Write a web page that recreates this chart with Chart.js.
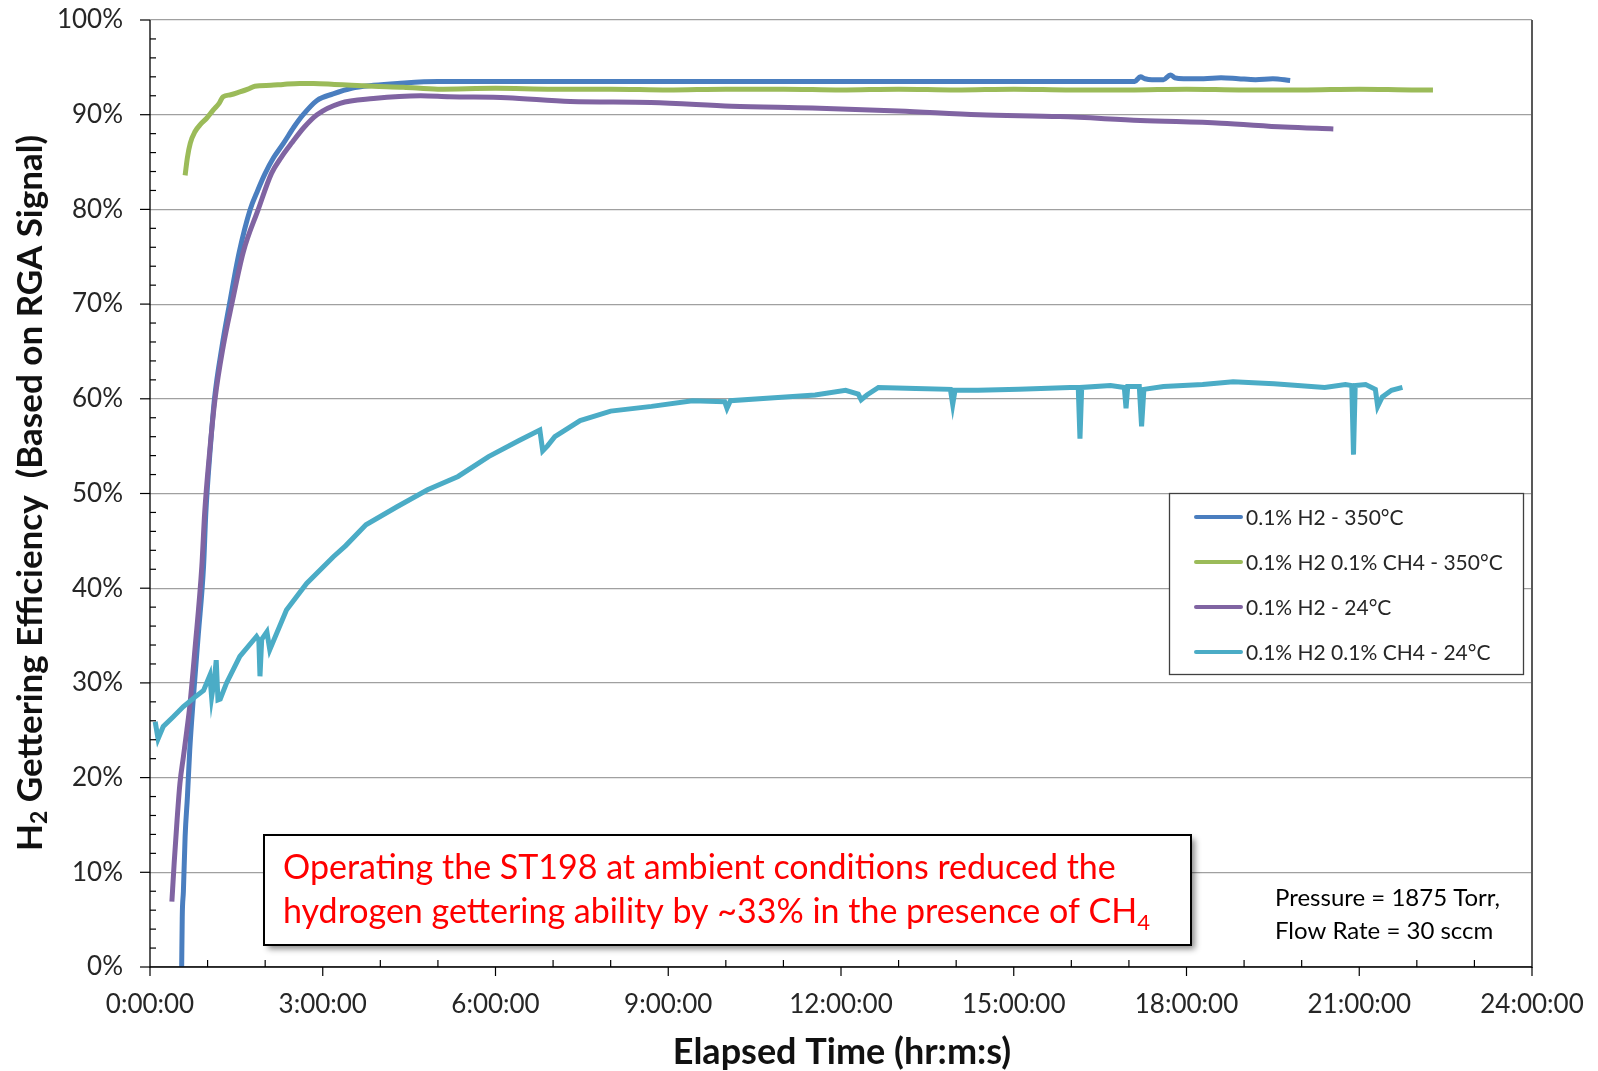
<!DOCTYPE html>
<html><head><meta charset="utf-8">
<script src="https://cdn.jsdelivr.net/npm/chart.js@4.4.1/dist/chart.umd.min.js"></script>
<style>html,body{margin:0;padding:0;background:#fff;overflow:hidden}</style>
</head><body>
<canvas id="c" width="1598" height="1071" style="width:1598px;height:1071px;display:block"></canvas>
<script>
// ---- data (hours, percent) ----
const seriesLabels = ['0.1% H2 - 350°C', '0.1% H2 0.1% CH4 - 350°C', '0.1% H2 - 24°C', '0.1% H2 0.1% CH4 - 24°C'];
const seriesColors = ['#4a7ebf', '#9bbb59', '#8064a2', '#4bacc6'];

const blueTime = [0.55,0.56,0.58,0.61,0.65,0.69,0.75,0.84,0.93,0.97,1.05,1.12,1.25,1.38,1.55,1.74,1.87,2.0,2.15,2.32,2.5,2.66,2.9,3.18,3.5,3.88,4.3,5.0,6,8,10,12,14,16,17.1,17.2,17.28,17.4,17.6,17.72,17.8,17.95,18.3,18.6,18.9,19.2,19.5,19.8];
const blueValue = [0,5.3,8,13.8,18,22.9,28.2,35.2,42.3,48,55,60,65.5,70,75.5,80,82,83.8,85.5,87,88.7,90,91.5,92.2,92.8,93.1,93.3,93.5,93.5,93.5,93.5,93.5,93.5,93.5,93.5,94.0,93.8,93.7,93.7,94.2,93.9,93.8,93.8,93.9,93.8,93.7,93.8,93.6];

const greenTime = [0.61,0.65,0.7,0.78,0.88,0.98,1.1,1.2,1.27,1.4,1.56,1.7,1.82,2.1,2.31,2.6,2.84,3.2,3.5,3.88,4.4,5.0,6,7,8,9,10,11,12,13,14,15,16,17,18,19,20,21,22,22.28];
const greenValue = [83.6,85.5,87,88.2,89,89.6,90.5,91.2,91.9,92.1,92.4,92.7,93.0,93.1,93.2,93.3,93.3,93.2,93.1,93.0,92.9,92.7,92.8,92.7,92.7,92.6,92.7,92.7,92.6,92.7,92.6,92.7,92.6,92.6,92.7,92.6,92.6,92.7,92.6,92.6];

const purpleTime = [0.38,0.42,0.47,0.52,0.58,0.64,0.69,0.78,0.9,0.95,1.03,1.13,1.27,1.42,1.62,1.88,2.11,2.28,2.46,2.68,2.9,3.3,3.88,4.7,5.2,6.2,7.3,8.7,10.1,11.5,13.0,14.4,15.8,17.2,18.6,19.7,20.55];
const purpleValue = [6.9,11,15.5,19.4,22.2,25,27.5,33.5,42.3,48,54,60,65.5,70,75.5,80,83.8,85.5,87,88.7,90,91.2,91.7,92.0,91.9,91.8,91.4,91.3,90.9,90.7,90.4,90.0,89.8,89.4,89.1,88.7,88.5];

const cyanTime = [0.09,0.14,0.23,0.40,0.58,0.78,0.93,1.04,1.07,1.12,1.15,1.18,1.22,1.33,1.56,1.85,1.89,1.91,1.94,2.03,2.08,2.37,2.72,3.18,3.4,3.75,4.29,4.82,5.35,5.88,6.41,6.77,6.82,6.9,7.03,7.47,8.0,8.71,9.42,9.98,10.02,10.08,10.84,11.55,12.08,12.3,12.35,12.45,12.65,13.3,13.9,13.94,13.98,14.38,15.09,15.98,16.12,16.15,16.18,16.68,16.92,16.95,16.98,17.18,17.22,17.26,17.6,18.28,18.81,19.52,20.4,20.76,20.87,20.9,20.93,21.11,21.28,21.32,21.4,21.56,21.75];
const cyanValue = [25.9,24.1,25.4,26.4,27.5,28.5,29.2,30.8,28.5,30.5,32.4,28.2,28.3,30.0,32.8,34.9,34.5,30.7,34.6,35.4,33.5,37.7,40.5,43.3,44.5,46.7,48.6,50.4,51.8,53.9,55.6,56.7,54.5,55.0,56.0,57.7,58.7,59.2,59.8,59.7,59.0,59.8,60.1,60.4,60.9,60.5,59.9,60.4,61.2,61.1,61.0,59.4,60.9,60.9,61.0,61.2,61.2,55.8,61.2,61.4,61.2,59.0,61.3,61.3,57.1,61.0,61.3,61.5,61.8,61.6,61.2,61.5,61.4,54.1,61.4,61.5,61.0,59.2,60.2,60.9,61.2];

const xTickValues = [0,3,6,9,12,15,18,21,24];   // hours
const yTickValues = [0,10,20,30,40,50,60,70,80,90,100]; // percent

const xTitle = 'Elapsed Time (hr:m:s)';
const noteLine1 = 'Operating the ST198 at ambient conditions reduced the';
const noteLine2 = 'hydrogen gettering ability by ~33% in the presence of CH';
const conditions = ['Pressure = 1875 Torr,', 'Flow Rate = 30 sccm'];

function pairs(t, v){ return t.map((x,i)=>({x:x, y:v[i]})); }
const allTimes = [blueTime, greenTime, purpleTime, cyanTime];
const allValues = [blueValue, greenValue, purpleValue, cyanValue];

const FONT = 'Lato, "Open Sans", "DejaVu Sans", sans-serif';

const decor = {
  id: 'decor',
  afterDraw(chart){
    const ctx = chart.ctx, ca = chart.chartArea;
    const xs = chart.scales.x, ys = chart.scales.y;
    ctx.save();
    // right border
    ctx.strokeStyle = '#595959'; ctx.lineWidth = 2;
    ctx.beginPath(); ctx.moveTo(ca.right, ca.top); ctx.lineTo(ca.right, ca.bottom + 1); ctx.stroke();
    // axis lines & ticks
    ctx.strokeStyle = '#000'; ctx.lineWidth = 1.3;
    ctx.beginPath(); ctx.moveTo(ca.left, ca.top); ctx.lineTo(ca.left, ca.bottom); ctx.lineTo(ca.right, ca.bottom); ctx.stroke();
    ctx.lineWidth = 1.2;
    for (let v = 0; v <= 100; v += 2){
      const y = ys.getPixelForValue(v);
      ctx.beginPath();
      if (v % 10 === 0){ ctx.moveTo(ca.left - 10, y); ctx.lineTo(ca.left, y); }
      else { ctx.moveTo(ca.left, y); ctx.lineTo(ca.left + 6, y); }
      ctx.stroke();
    }
    for (let h = 0; h <= 24; h += 1){
      const x = xs.getPixelForValue(h);
      ctx.beginPath();
      if (h % 3 === 0){ ctx.moveTo(x, ca.bottom); ctx.lineTo(x, ca.bottom + 9); }
      else { ctx.moveTo(x, ca.bottom); ctx.lineTo(x, ca.bottom - 7); }
      ctx.stroke();
    }
    // x title
    ctx.fillStyle = '#111';
    ctx.font = 'bold 36px ' + FONT;
    ctx.textAlign = 'center'; ctx.textBaseline = 'middle';
    ctx.fillText(xTitle, 842, 1052);
    // y title with subscript
    ctx.save();
    ctx.translate(31, 493); ctx.rotate(-Math.PI / 2);
    const big = 'bold 35px ' + FONT, small = 'bold 23px ' + FONT;
    const p1 = 'H', p2 = '2', p3 = ' Gettering Efficiency  (Based on RGA Signal)';
    ctx.font = big; const w1 = ctx.measureText(p1).width, w3 = ctx.measureText(p3).width;
    ctx.font = small; const w2 = ctx.measureText(p2).width;
    let sx = -(w1 + w2 + w3) / 2;
    ctx.textAlign = 'left'; ctx.textBaseline = 'middle';
    ctx.font = big; ctx.fillText(p1, sx, 0); sx += w1;
    ctx.font = small; ctx.fillText(p2, sx, 9); sx += w2;
    ctx.font = big; ctx.fillText(p3, sx, 0);
    ctx.restore();

    // legend box
    ctx.fillStyle = '#fff'; ctx.fillRect(1169, 493, 355, 182);
    ctx.strokeStyle = '#404040'; ctx.lineWidth = 1.3; ctx.strokeRect(1169.5, 493.5, 354, 181);
    const rows = [517, 562, 607, 652];
    chart.data.datasets.forEach((ds, i) => {
      ctx.strokeStyle = ds.borderColor; ctx.lineWidth = 4; ctx.lineCap = 'round';
      ctx.beginPath(); ctx.moveTo(1196, rows[i]); ctx.lineTo(1241, rows[i]); ctx.stroke();
      ctx.fillStyle = '#262626'; ctx.font = '21px ' + FONT; ctx.textAlign = 'left'; ctx.textBaseline = 'middle';
      ctx.fillText(ds.label, 1246, rows[i] + 1);
    });
    ctx.lineCap = 'butt';

    // annotation box
    ctx.save();
    ctx.shadowColor = 'rgba(0,0,0,0.45)'; ctx.shadowBlur = 6; ctx.shadowOffsetX = 4; ctx.shadowOffsetY = 4;
    ctx.fillStyle = '#fff'; ctx.fillRect(264, 835, 927, 110);
    ctx.restore();
    ctx.strokeStyle = '#000'; ctx.lineWidth = 2; ctx.strokeRect(264, 835, 927, 110);
    ctx.fillStyle = '#ff0000'; ctx.font = '34px ' + FONT; ctx.textAlign = 'left'; ctx.textBaseline = 'middle';
    ctx.fillText(noteLine1, 283, 868);
    ctx.fillText(noteLine2, 283, 912);
    const wl2 = ctx.measureText(noteLine2).width;
    ctx.font = '22px ' + FONT; ctx.fillText('4', 283 + wl2, 923);

    // conditions
    ctx.fillStyle = '#000'; ctx.font = '24px ' + FONT; ctx.textAlign = 'left';
    ctx.fillText(conditions[0], 1275, 898);
    ctx.fillText(conditions[1], 1275, 931);
    ctx.restore();
  }
};

const datasets = seriesLabels.map((lab, i) => ({
  label: lab,
  data: pairs(allTimes[i], allValues[i]),
  borderColor: seriesColors[i],
  backgroundColor: seriesColors[i],
  borderWidth: 5,
  pointRadius: 0,
  tension: i === 3 ? 0 : 0.3,
  cubicInterpolationMode: i === 3 ? 'default' : 'monotone',
  order: 4 - i,
  fill: false
}));

new Chart(document.getElementById('c'), {
  type: 'line',
  data: { datasets },
  options: {
    responsive: false,
    animation: false,
    devicePixelRatio: 1,
    layout: { padding: { left: 0, top: 20, right: 66, bottom: 0 } },
    plugins: { legend: { display: false }, tooltip: { enabled: false }, title: { display: false } },
    scales: {
      x: {
        type: 'linear', min: 0, max: 24,
        afterBuildTicks: s => { s.ticks = xTickValues.map(v => ({ value: v })); },
        afterFit: s => { s.height = 104; s.paddingLeft = 0; s.paddingRight = 0; },
        grid: { display: false, drawTicks: false },
        border: { display: false },
        ticks: { padding: 22, color: '#262626', font: { family: FONT, size: 26 }, maxRotation: 0, autoSkip: false,
          callback: v => v + ':00:00' }
      },
      y: {
        type: 'linear', min: 0, max: 100,
        afterBuildTicks: s => { s.ticks = yTickValues.map(v => ({ value: v })); },
        afterFit: s => { s.width = 150; s.paddingTop = 0; s.paddingBottom = 0; },
        grid: { color: '#a0a0a0', lineWidth: 1.2, drawTicks: false },
        border: { display: false },
        ticks: { padding: 27, color: '#262626', font: { family: FONT, size: 26 }, callback: v => v + '%' }
      }
    }
  },
  plugins: [decor]
});
</script>
</body></html>
